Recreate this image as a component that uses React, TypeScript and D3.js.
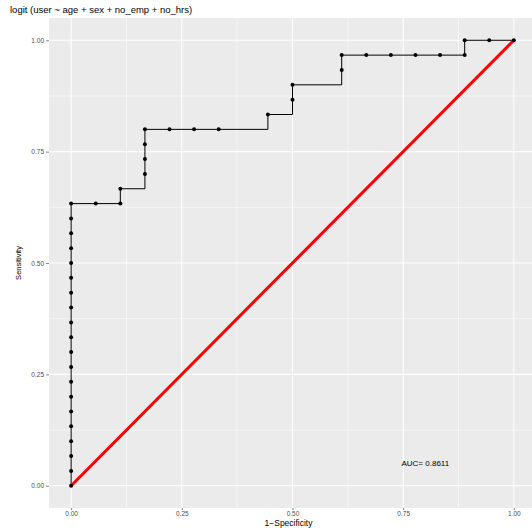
import { useEffect, useRef } from "react";
import * as d3 from "d3";

// ROC points: false positives out of 18 negatives, true positives out of 30 positives
const fpCounts = [0, 0, 0, 0, 0, 0, 0, 0, 0, 0, 0, 0, 0, 0, 0, 0, 0, 0, 0, 0, 1, 2, 2, 3, 3, 3, 3, 4, 5, 6, 8, 9, 9, 11, 11, 12, 13, 14, 15, 16, 16, 17, 18];
const tpCounts = [0, 1, 2, 3, 4, 5, 6, 7, 8, 9, 10, 11, 12, 13, 14, 15, 16, 17, 18, 19, 19, 19, 20, 21, 22, 23, 24, 24, 24, 24, 25, 26, 27, 28, 29, 29, 29, 29, 29, 29, 30, 30, 30];
const nNeg = 18;
const nPos = 30;
const ticks = [0, 0.25, 0.5, 0.75, 1];
const minorTicks = [0.125, 0.375, 0.625, 0.875];
const title = "logit (user ~ age + sex + no_emp + no_hrs)";
const aucLabel = "AUC= 0.8611";

const App = () => {
  const ref = useRef<SVGSVGElement>(null);

  useEffect(() => {
    const width = 532;
    const height = 528;
    const margin = { top: 18, right: -4, bottom: 20, left: 49 };
    const font = "'Liberation Sans', Arial, sans-serif";

    const svg = d3.select(ref.current);
    svg.selectAll("*").remove();
    svg.attr("width", width).attr("height", height);
    svg.append("rect").attr("width", width).attr("height", height).attr("fill", "#fff");

    const pw = width - margin.left - margin.right;
    const ph = height - margin.top - margin.bottom;

    const x = d3.scaleLinear().domain([-0.05, 1.05]).range([margin.left, margin.left + pw]);
    const y = d3.scaleLinear().domain([-0.05, 1.05]).range([margin.top + ph, margin.top]);

    const data = fpCounts.map((f, i) => ({ fpr: f / nNeg, tpr: tpCounts[i] / nPos }));

    // panel
    svg
      .append("rect")
      .attr("x", margin.left)
      .attr("y", margin.top)
      .attr("width", pw)
      .attr("height", ph)
      .attr("fill", "#EBEBEB");

    const grid = svg.append("g");
    minorTicks.forEach((t) => {
      grid.append("line").attr("x1", x(t)).attr("x2", x(t)).attr("y1", margin.top).attr("y2", margin.top + ph)
        .attr("stroke", "#fff").attr("stroke-width", 0.5);
      grid.append("line").attr("y1", y(t)).attr("y2", y(t)).attr("x1", margin.left).attr("x2", margin.left + pw)
        .attr("stroke", "#fff").attr("stroke-width", 0.5);
    });
    ticks.forEach((t) => {
      grid.append("line").attr("x1", x(t)).attr("x2", x(t)).attr("y1", margin.top).attr("y2", margin.top + ph)
        .attr("stroke", "#fff").attr("stroke-width", 1.1);
      grid.append("line").attr("y1", y(t)).attr("y2", y(t)).attr("x1", margin.left).attr("x2", margin.left + pw)
        .attr("stroke", "#fff").attr("stroke-width", 1.1);
    });

    // axes
    const xAxis = svg
      .append("g")
      .attr("transform", `translate(0, ${margin.top + ph})`)
      .call(d3.axisBottom(x).tickValues(ticks).tickFormat(d3.format(".2f")).tickSize(2).tickPadding(1));
    const yAxis = svg
      .append("g")
      .attr("transform", `translate(${margin.left}, 0)`)
      .call(d3.axisLeft(y).tickValues(ticks).tickFormat(d3.format(".2f")).tickSize(3).tickPadding(2));
    [xAxis, yAxis].forEach((a) => {
      a.select(".domain").remove();
      a.selectAll(".tick line").attr("stroke", "#333").attr("stroke-width", 0.6);
      a.selectAll(".tick text").attr("fill", "#4D4D4D").style("font-family", font).style("font-size", "6.5px");
    });

    // ROC step line
    const line = d3
      .line<{ fpr: number; tpr: number }>()
      .x((d) => x(d.fpr))
      .y((d) => y(d.tpr))
      .curve(d3.curveStepAfter);

    svg
      .append("path")
      .datum(data)
      .attr("d", line)
      .attr("fill", "none")
      .attr("stroke", "#000")
      .attr("stroke-width", 1);

    // diagonal
    svg
      .append("line")
      .attr("x1", x(0))
      .attr("y1", y(0))
      .attr("x2", x(1))
      .attr("y2", y(1))
      .attr("stroke", "#FF0000")
      .attr("stroke-width", 3);

    svg
      .selectAll("circle.pt")
      .data(data)
      .enter()
      .append("circle")
      .attr("class", "pt")
      .attr("cx", (d) => x(d.fpr))
      .attr("cy", (d) => y(d.tpr))
      .attr("r", 2)
      .attr("fill", "#000");

    svg
      .append("text")
      .attr("x", x(0.8))
      .attr("y", y(0.05))
      .attr("text-anchor", "middle")
      .attr("dy", "0.35em")
      .style("font-family", font)
      .style("font-size", "8px")
      .attr("fill", "#000")
      .text(aucLabel);

    svg
      .append("text")
      .attr("x", 10)
      .attr("y", 13)
      .style("font-family", font)
      .style("font-size", "9.5px")
      .attr("fill", "#000")
      .text(title);

    svg
      .append("text")
      .attr("x", margin.left + pw / 2 - 4)
      .attr("y", 525.5)
      .attr("text-anchor", "middle")
      .style("font-family", font)
      .style("font-size", "8.5px")
      .attr("fill", "#000")
      .text("1\u2212Specificity");

    svg
      .append("text")
      .attr("transform", `translate(21, ${y(0.5)}) rotate(-90)`)
      .attr("text-anchor", "middle")
      .style("font-family", font)
      .style("font-size", "7.5px")
      .attr("fill", "#000")
      .text("Sensitivity");
  }, []);

  return <svg ref={ref} style={{ position: "absolute", left: 0, top: 0 }}></svg>;
};

export default App;
